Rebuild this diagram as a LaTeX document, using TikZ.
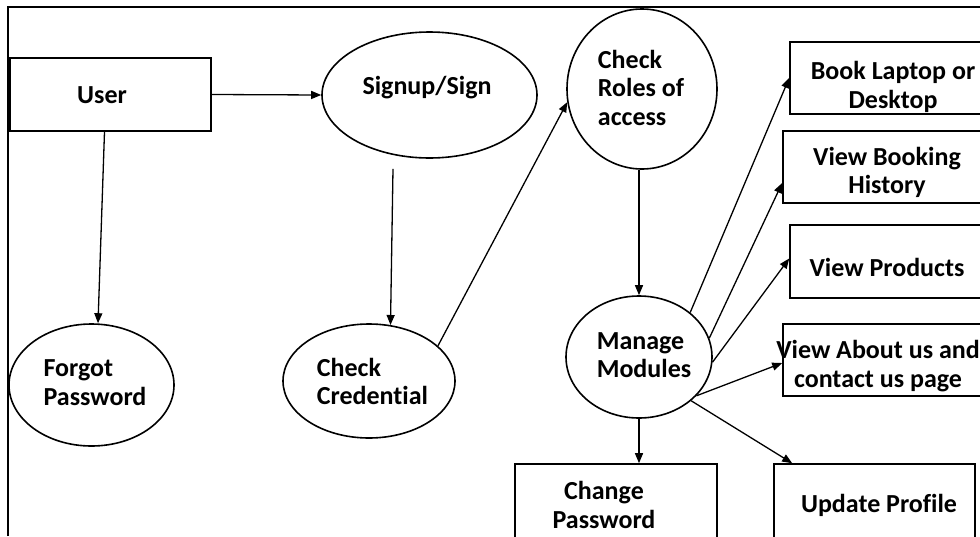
\documentclass[tikz,border=0pt]{standalone}
\usepackage{fontspec}
\setmainfont{Carlito}[Ligatures=NoCommon]
\usetikzlibrary{shapes.geometric,arrows.meta}
\tikzset{
  x=1pt, y=-1pt,
  shapeline/.style={draw=black, line width=1.6pt, inner sep=0pt},
  boxshape/.style={shapeline, rectangle, minimum width=#1},
  ovalshape/.style={shapeline, ellipse},
  lbl/.style={inner sep=0pt, font=\fontsize{26}{28.5}\selectfont\bfseries},
  arr/.style={draw=black, line width=1.3pt, -{Triangle[length=10pt,width=8pt]}},
}
\begin{document}
\begin{tikzpicture}
\useasboundingbox (0,0) rectangle (980,536);
\clip (0,0) rectangle (980,536);

% outer frame
\draw[line width=2pt] (8,536) -- (8,7) -- (980,7);

% process shapes
\node[boxshape=201, minimum height=73] (user) at (110.5,94.5) {};
\node[ovalshape, minimum width=215, minimum height=126] (signup) at (429.5,95) {};
\node[ovalshape, minimum width=165, minimum height=122] (forgot) at (91.5,385) {};
\node[ovalshape, minimum width=172, minimum height=114] (cred) at (369,381) {};
\node[ovalshape, minimum width=150, minimum height=160] (roles) at (642,89) {};
\node[ovalshape, minimum width=146, minimum height=122] (manage) at (639,357) {};

\node[boxshape=210, minimum height=72] (book) at (895,78) {};
\node[boxshape=217, minimum height=72] (hist) at (891.5,167) {};
\node[boxshape=210, minimum height=73] (prod) at (895,261.5) {};
\node[boxshape=217, minimum height=72] (about) at (891.5,360) {};
\node[boxshape=201, minimum height=100] (update) at (874.5,514) {};
\node[boxshape=202, minimum height=100] (change) at (616,514) {};

% labels
\node[lbl] (userT) at (102,95) {User};
\node[lbl] (signupT) at (427,88) {Signup/Sign};
\node[lbl, align=left] (forgotT) at (95,382.5) {Forgot\\Password};
\node[lbl, align=left] (credT) at (372.5,381.5) {Check\\Credential};
\node[lbl, align=left] (rolesT) at (641,87.5) {Check\\Roles of\\access};
\node[lbl, align=left] (manageT) at (644,355) {Manage\\Modules};
\node[lbl, align=center] (bookT) at (893,87) {Book Laptop or\\Desktop};
\node[lbl, align=center] (histT) at (887,172.5) {View Booking\\History};
\node[lbl] (prodT) at (887,267) {View Products};
\node[lbl, align=center] (aboutT) at (878,366) {View About us and\\contact us page};
\node[lbl] (updateT) at (879,505) {Update Profile};
\node[lbl, align=center] (changeT) at (604,505) {Change\\Password};

% flows
\draw[arr] (user.east) -- (signup.west);
\draw[arr] ([xshift=-6pt]user.south) -- ([xshift=6.5pt]forgot.north);
\coordinate (signupOut) at ([shift={(-36.5,10)}]signup.south);
\draw[arr] (signupOut) -- (cred.69);
\draw[arr] (cred.27.5) -- (roles.190);
\draw[arr] (manage.north |- roles.south) -- (manage.north);
\draw[arr] (manage.41) -- (book.west);
\draw[arr] (manage.15) -- ([yshift=-16pt]hist.west);
\draw[arr] (manage.-4) -- ([yshift=3pt]prod.west);
\draw[arr] (manage.-34) -- ([yshift=-3pt]about.west);
\draw[arr] (manage.-40) -- ([xshift=19pt]update.north west);
\draw[arr] (manage.south) -- (manage.south |- change.north);
\end{tikzpicture}
\end{document}
